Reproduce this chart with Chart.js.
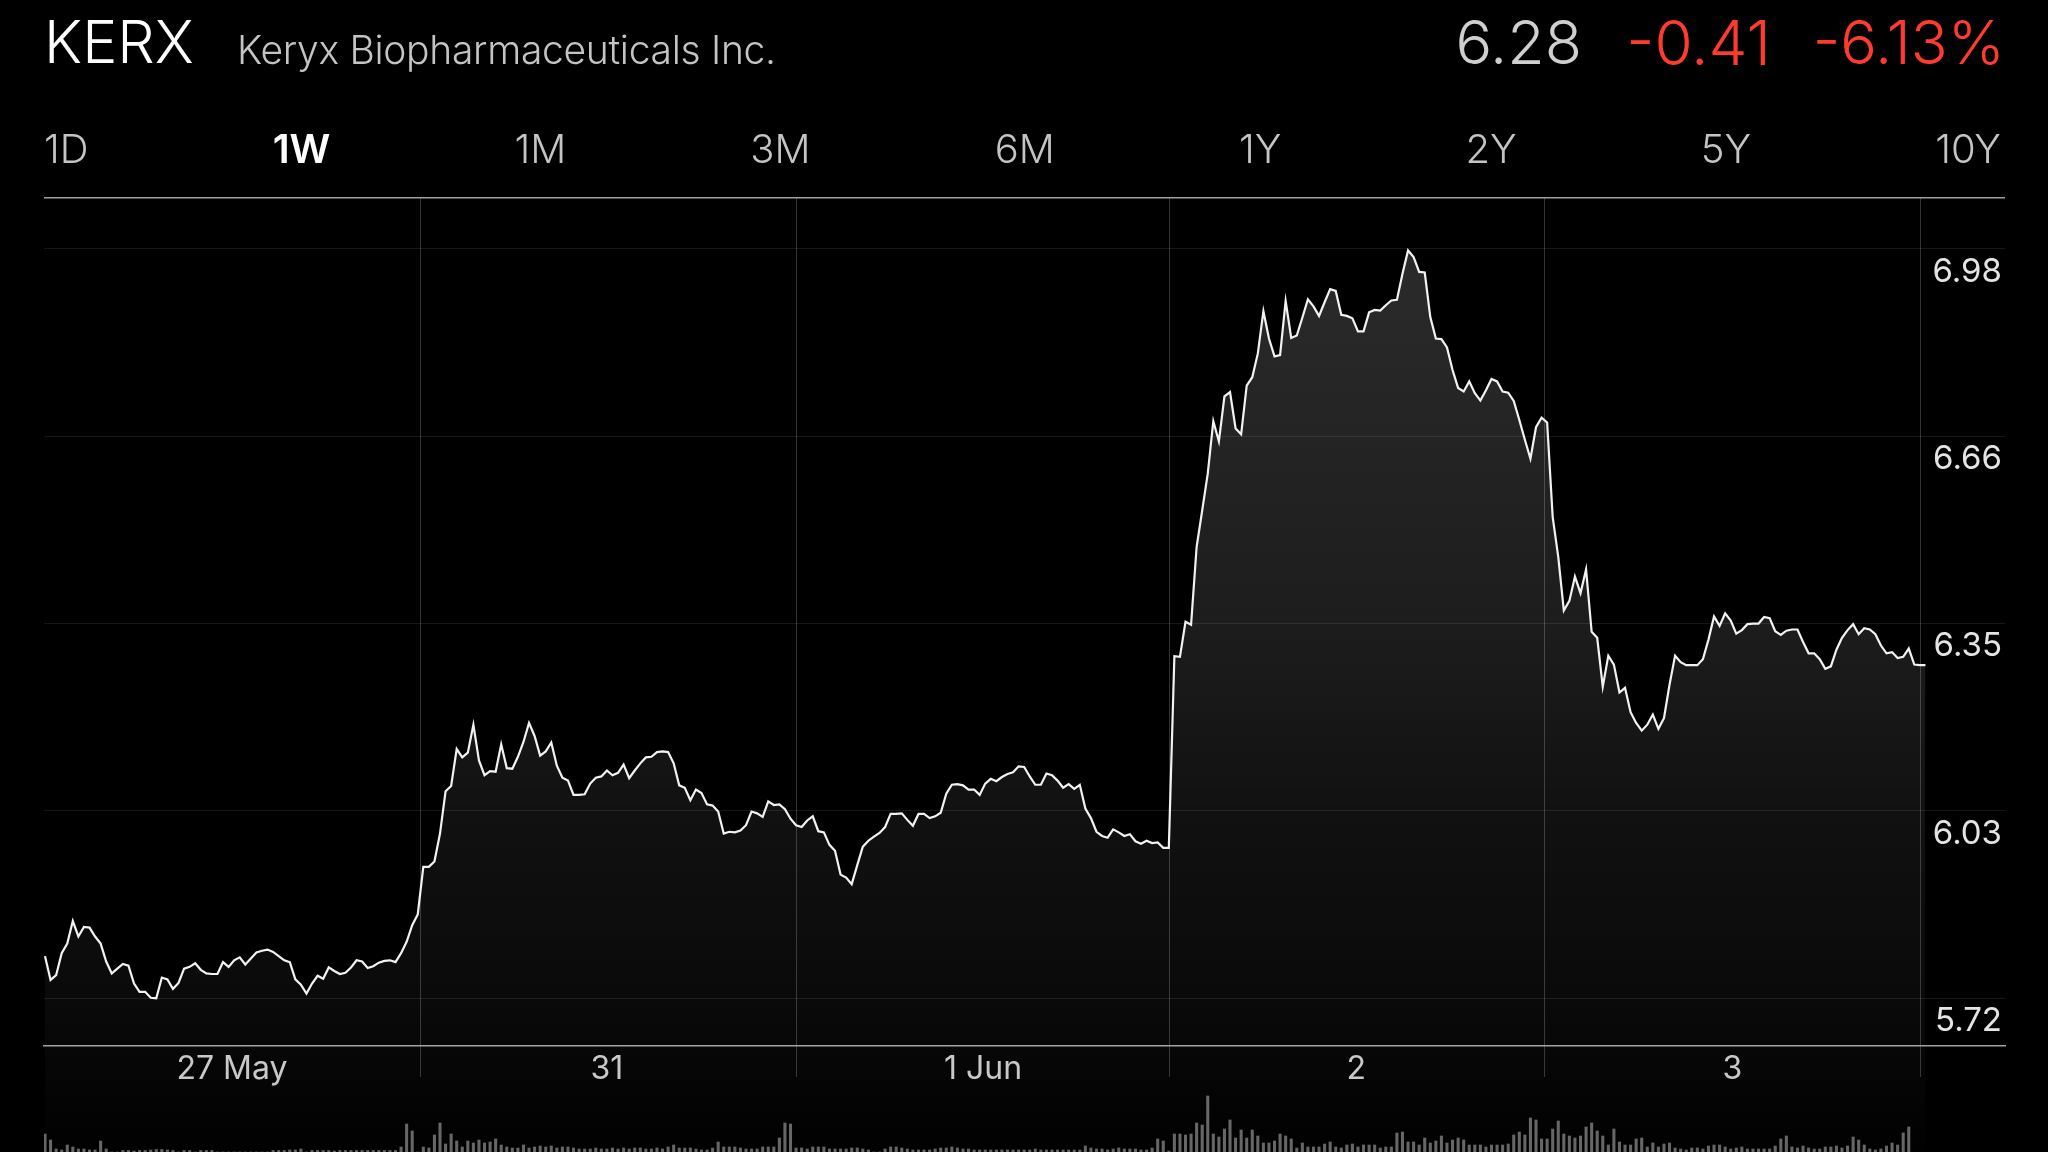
<!DOCTYPE html>
<html><head><meta charset="utf-8">
<script src="https://cdn.jsdelivr.net/npm/chart.js@4/dist/chart.umd.min.js"></script>
<style>
html,body{margin:0;padding:0;background:#000;width:2048px;height:1152px;overflow:hidden;font-family:Inter,sans-serif}
canvas{position:absolute;left:0;top:0}
.t{position:absolute;white-space:nowrap;line-height:1}
#sym{left:44px;top:12px;font-size:59px;font-weight:300;color:#fff}
#name{left:237px;top:30px;font-size:39px;font-weight:300;color:#c4c4c4;letter-spacing:-.3px}
#last{right:466px;top:12px;font-size:61px;font-weight:300;color:#cfcfcf}
#chg{right:277px;top:12px;font-size:62px;font-weight:300;color:#ff3b30}
#pct{right:43px;top:12px;font-size:61px;font-weight:300;color:#ff3b30}
#tabs{position:absolute;left:44px;right:47px;top:129px;display:flex;justify-content:space-between;font-size:40px;font-weight:300;color:#c4c4c4;line-height:1}
#tabs .on{font-weight:600;color:#fff}
</style></head><body>
<canvas id="c" width="2048" height="1152"></canvas>
<div class="t" id="sym"></div><div class="t" id="name"></div>
<div class="t" id="last"></div><div class="t" id="chg"></div><div class="t" id="pct"></div>
<div id="tabs"></div>
<script>
const symbol = "KERX";
const company = "Keryx Biopharmaceuticals Inc.";
const quote = ["6.28", "-0.41", "-6.13%"];
const ranges = ["1D","1W","1M","3M","6M","1Y","2Y","5Y","10Y"];
const activeRange = "1W";

const priceTicks = [5.72, 6.035, 6.35, 6.665, 6.98];
const priceTickLabels = ["5.72","6.03","6.35","6.66","6.98"];
const dayBoundaries = [67.53, 135.05, 202.1, 269.6, 337.1];
const dayCentres = [33.6, 101, 168.6, 235.7, 303.3];
const dayLabels = ["27 May","31","1 Jun","2","3"];

const prices = [
5.791,5.751,5.759,5.796,5.812,5.850,5.824,5.840,5.839,5.824,
5.812,5.782,5.762,5.770,5.778,5.775,5.745,5.731,5.731,5.721,
5.720,5.755,5.752,5.736,5.746,5.770,5.773,5.779,5.768,5.762,
5.761,5.761,5.781,5.773,5.784,5.789,5.777,5.787,5.797,5.800,
5.802,5.798,5.791,5.784,5.781,5.752,5.743,5.728,5.745,5.758,
5.753,5.772,5.766,5.761,5.763,5.772,5.784,5.782,5.771,5.774,
5.780,5.783,5.784,5.781,5.796,5.815,5.843,5.861,5.941,5.941,
5.950,5.997,6.068,6.077,6.139,6.125,6.133,6.180,6.120,6.095,
6.102,6.101,6.147,6.107,6.106,6.126,6.151,6.183,6.161,6.128,
6.135,6.150,6.111,6.091,6.086,6.062,6.062,6.063,6.081,6.091,
6.093,6.103,6.095,6.099,6.113,6.090,6.103,6.115,6.125,6.126,
6.134,6.135,6.134,6.115,6.078,6.074,6.053,6.071,6.065,6.046,
6.044,6.034,5.997,6.000,5.999,6.002,6.011,6.034,6.031,6.025,
6.051,6.045,6.046,6.038,6.022,6.011,6.008,6.019,6.026,6.001,
5.999,5.978,5.968,5.928,5.923,5.912,5.944,5.975,5.985,5.992,
5.998,6.008,6.030,6.030,6.031,6.020,6.010,6.030,6.030,6.023,
6.026,6.032,6.064,6.079,6.080,6.078,6.071,6.071,6.062,6.081,
6.089,6.085,6.092,6.097,6.100,6.110,6.109,6.093,6.079,6.079,
6.098,6.095,6.086,6.074,6.080,6.072,6.079,6.039,6.023,6.000,
5.993,5.990,6.004,5.999,5.993,5.996,5.984,5.980,5.985,5.981,
5.982,5.973,5.973,6.295,6.294,6.353,6.348,6.479,6.540,6.602,
6.690,6.656,6.732,6.739,6.678,6.668,6.750,6.764,6.804,6.875,
6.829,6.799,6.801,6.892,6.830,6.834,6.864,6.895,6.883,6.867,
6.890,6.912,6.909,6.869,6.867,6.863,6.841,6.841,6.873,6.877,
6.876,6.885,6.893,6.894,6.938,6.977,6.966,6.941,6.940,6.865,
6.829,6.828,6.814,6.776,6.746,6.740,6.757,6.737,6.725,6.742,
6.761,6.757,6.740,6.738,6.724,6.692,6.659,6.627,6.680,6.696,
6.688,6.529,6.462,6.372,6.388,6.429,6.401,6.441,6.336,6.326,
6.244,6.296,6.281,6.234,6.242,6.201,6.183,6.170,6.180,6.197,
6.173,6.191,6.247,6.296,6.285,6.280,6.280,6.280,6.290,6.323,
6.362,6.346,6.367,6.355,6.333,6.339,6.349,6.350,6.350,6.361,
6.359,6.337,6.331,6.338,6.340,6.340,6.319,6.300,6.300,6.290,
6.274,6.278,6.306,6.326,6.339,6.349,6.332,6.342,6.340,6.332,
6.313,6.300,6.302,6.292,6.294,6.308,6.281,6.280,6.280
];

const volumes = [
18,12,3,2,7,5,3,3,2,2,
11,3,0,0,1.5,1.5,1,1.5,1.5,2,
2.5,2.5,2,1.5,0,1.5,1.5,0,1.5,1.5,
1.5,0,0,0,0,0,0,0,0,0,
0,1.5,1.5,1.5,2,2,3,0,1.5,1.5,
1.5,1.5,1,1.5,1.5,1.5,1.5,1.5,1.5,1.5,
1.5,1.5,1.5,1.5,5,28,21,0,5,4,
17,29,8,18,11,5,11,9,12,9,
10,13,7,5,4,4,7,4,5,6,
5,6,4,5,5,4,3,3,3,4,
3,3,4,3,4,3,4,4,3,3,
4,3,5,7,4,4,4,3,2,2,
4,10,5,5,5,4,3,3,3,5,
5,5,14,29,28,4,4,3,5,5,
5,3,3,3,3,4,4,3,2,0,
0,3,5,5,4,3,2,2,2,2,
3,4,4,5,4,3,3,2,2,2,
2,2,2,2,2,2,2,2,3,2,
2,2,2,2,2,2,2,6,4,3,
3,2,3,4,3,3,3,2,2,4,
13,11,1,18,18,17,18,29,27,56,
18,15,23,32,14,22,14,22,16,9,
9,11,18,16,13,4,9,5,5,5,
8,10,5,4,7,8,5,7,7,7,
4,5,5,19,20,10,10,7,14,9,
11,16,9,12,14,12,7,7,7,5,
7,7,7,8,17,20,17,34,32,13,
13,23,31,18,16,14,16,25,29,21,
16,7,23,10,7,7,13,14,5,9,
5,8,9,4,3,2,4,4,3,6,
7,7,5,3,4,5,3,3,3,3,
3,6,13,16,5,4,6,4,3,3,
5,5,6,4,6,15,12,7,3,2,
3,6,9,7,19,25
];

document.getElementById('sym').textContent = symbol;
document.getElementById('name').textContent = company;
document.getElementById('last').textContent = quote[0];
document.getElementById('chg').textContent = quote[1];
document.getElementById('pct').textContent = quote[2];
document.getElementById('tabs').innerHTML = ranges.map(r => `<span class="${r===activeRange?'on':''}">${r}</span>`).join('');

const PRICE_MIN = 5.4618, PRICE_MAX = 7.0652, AXIS_PRICE = 5.6404, VOL_MAX = 954;

const maskBelowTicks = {
  id: 'maskBelowTicks',
  beforeDatasetsDraw(chart) {
    const { ctx, chartArea: a } = chart;
    ctx.save();
    ctx.fillStyle = '#000';
    ctx.fillRect(a.left - 2, 1077, a.right - a.left + 4, a.bottom - 1077 + 2);
    ctx.restore();
  }
};

function fillGradient(ctx) {
  const g = ctx.chart.ctx.createLinearGradient(0, 198, 0, 1152);
  g.addColorStop(0, 'rgba(255,255,255,0.175)');
  g.addColorStop(0.445, 'rgba(255,255,255,0.115)');
  g.addColorStop(0.645, 'rgba(255,255,255,0.068)');
  g.addColorStop(0.84, 'rgba(255,255,255,0.04)');
  g.addColorStop(1, 'rgba(255,255,255,0.005)');
  return g;
}

function noMargins(s) {
  s.paddingTop = s.paddingBottom = s.paddingLeft = s.paddingRight = 0;
}

new Chart(document.getElementById('c'), {
  plugins: [maskBelowTicks],
  data: {
    datasets: [
      { type:'line', label:'Price', data: prices.map((y,x)=>({x,y})), xAxisID:'x', yAxisID:'y',
        borderColor:'#f2f2f2', borderWidth:2.2, pointRadius:0, tension:0, fill:'start',
        backgroundColor: fillGradient, order:1 },
      { type:'bar', label:'Volume', data: volumes.map((y,x)=>({x,y})), xAxisID:'x', yAxisID:'yVol',
        backgroundColor:'#666666', barThickness:2.4, order:2 }
    ]
  },
  options: {
    responsive:false, animation:false, devicePixelRatio:1,
    layout:{ padding:{ left:44, right:43, top:198, bottom:0 } },
    plugins:{ legend:{display:false}, tooltip:{enabled:false}, title:{display:false} },
    scales:{
      x:{ type:'linear', position:{ y: AXIS_PRICE }, min:-0.18, max:352.3, offset:false,
        afterFit(s){ s.height = 0; noMargins(s); },
        afterBuildTicks(s){ s.ticks = dayCentres.concat(dayBoundaries).map(value=>({value})); },
        grid:{ offset:false, drawTicks:false,
          color: c => (c.tick && dayBoundaries.includes(c.tick.value)) ? 'rgba(255,255,255,0.2)' : 'rgba(0,0,0,0)',
          lineWidth:1 },
        border:{ display:true, color:'#a0a0a0', width:1.5 },
        ticks:{ autoSkip:false, maxRotation:0, padding:4, z:1, color:'#c8c8c8',
          font:{ family:'Inter', size:32, weight:'400' },
          callback: v => { const i = dayCentres.indexOf(v); return i>=0 ? dayLabels[i] : ''; } }
      },
      y:{ type:'linear', position:'right', min:PRICE_MIN, max:PRICE_MAX,
        afterFit(s){ s.width = 0; noMargins(s); },
        afterBuildTicks(s){ s.ticks = priceTicks.concat([PRICE_MAX]).map(value=>({value})); },
        grid:{ drawTicks:false,
          color: c => (c.tick && c.tick.value===PRICE_MAX) ? '#a0a0a0' : 'rgba(255,255,255,0.085)',
          lineWidth: c => (c.tick && c.tick.value===PRICE_MAX) ? 1.5 : 1 },
        border:{ display:false },
        ticks:{ mirror:true, padding:-3, labelOffset:23, z:1, color:'#e4e4e4', autoSkip:false,
          font:{ family:'Inter', size:33, weight:'400' },
          callback: v => { const i = priceTicks.indexOf(v); return i>=0 ? priceTickLabels[i] : ''; } }
      },
      yVol:{ type:'linear', display:false, min:0, max:VOL_MAX }
    }
  }
});
</script>
</body></html>
